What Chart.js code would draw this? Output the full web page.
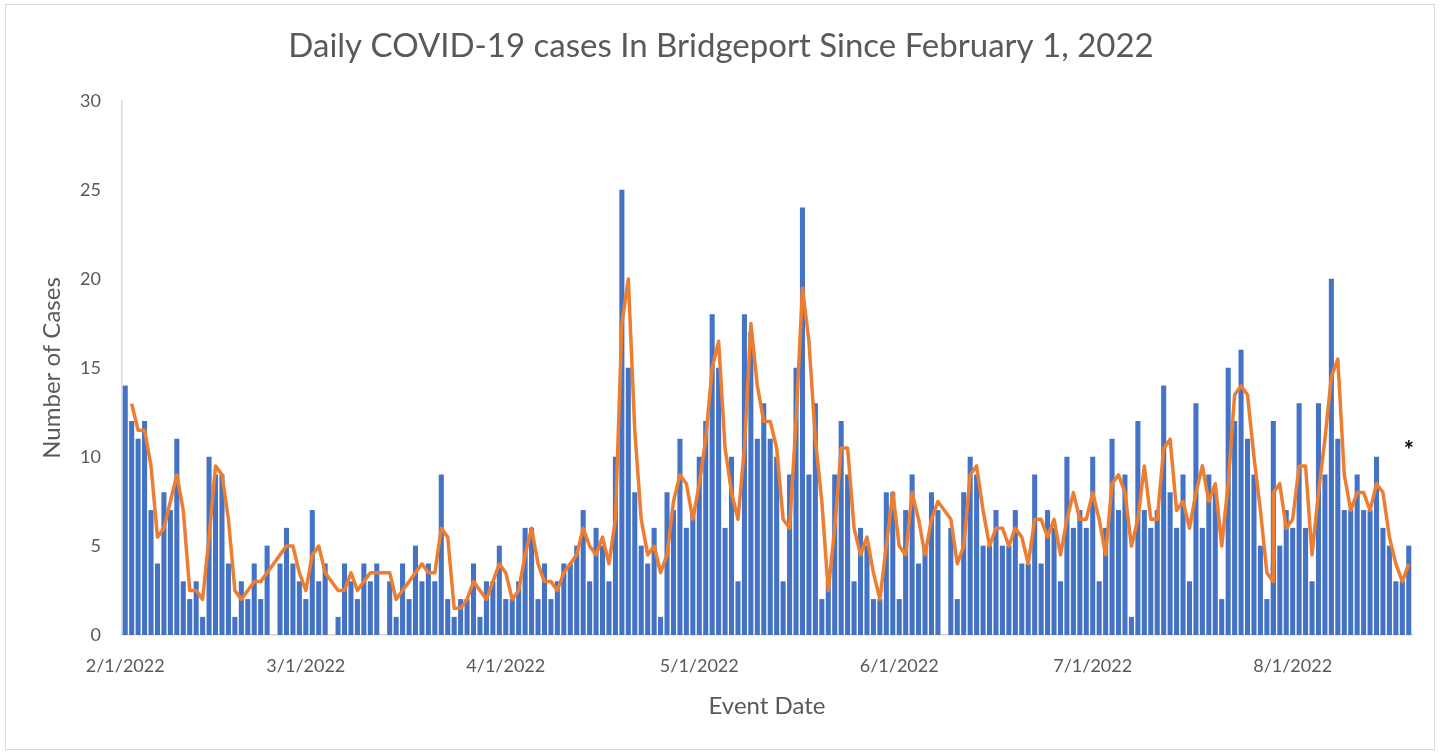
<!DOCTYPE html>
<html>
<head>
<meta charset="utf-8">
<title>Daily COVID-19 cases In Bridgeport</title>
<script src="https://cdn.jsdelivr.net/npm/chart.js@4.4.1/dist/chart.umd.min.js"></script>
<style>
  html, body { margin: 0; padding: 0; background: #fff; }
  #wrap { position: relative; width: 1442px; height: 756px; }
  #frame { position: absolute; left: 5px; top: 4px; width: 1430px; height: 746px; border: 1px solid #d9d9d9; box-sizing: border-box; pointer-events: none; }
</style>
</head>
<body>
<div id="wrap">
  <canvas id="covid-chart" width="1442" height="756"></canvas>
  <div id="frame"></div>
</div>
<script>
// Daily reported cases, one entry per day from 2/1/2022 to 8/19/2022 (null = no report that day)
const dailyCases = [
  14, 12, 11, 12, 7, 4, 8, 7, 11, 3, 2, 3, 1, 10, 9, 9, 4, 1, 3, 2, 4, 2, 5, null, 4, 6,
  4, 3, 2, 7, 3, 4, null, 1, 4, 3, 2, 4, 3, 4, null, 3,
  1, 4, 2, 5, 3, 4, 3, 9,
  2, 1, 2, 2, 4, 1, 3, 3, 5, 2, 2, 3, 6, 6, 2, 4, 2, 3, 4, 4, 5, 7, 3, 6, 5,
  3, 10, 25, 15, 8, 5, 4, 6, 1, 8, 7, 11, 6, 7, 10, 12, 18, 15, 6, 10, 3, 18, 17, 11, 13,
  11, 10, 3, 9, 15, 24, 9, 13, 2, 3, 9, 12, 9, 3, 6, 5, 2, 2, 8, 8, 2, 7, 9, 4, 5,
  8, 7, null, 6, 2, 8, 10, 9, 5, 5, 7, 5, 5, 7, 4, 4, 9, 4, 7, 6, 3, 10, 6, 7, 6,
  10, 3, 6, 11, 7, 9, 1, 12, 7, 6, 7, 14, 8, 6, 9, 3, 13, 6, 9, 8, 2, 15, 12, 16,
  11, 9, 5, 2, 12, 5, 7, 6, 13, 6, 3, 13, 9, 20, 11, 7, 7, 9, 7, 7, 10, 6, 5, 3, 3, 5
];

// a second report filed on the same date (listed before that day's main report)
const extraReports = [{ day: 178, cases: 4 }];

const tickDays = [0, 28, 59, 89, 120, 150, 181];
const tickLabels = ['2/1/2022', '3/1/2022', '4/1/2022', '5/1/2022', '6/1/2022', '7/1/2022', '8/1/2022'];
const yTicks = [0, 5, 10, 15, 20, 25, 30];
const totalDays = dailyCases.length;

// Build the rows in sheet order
const rows = [];
dailyCases.forEach((c, day) => {
  extraReports.filter(r => r.day === day).forEach(r => rows.push({ x: day, y: r.cases }));
  if (c !== null) rows.push({ x: day, y: c });
});

// 2 per. Mov. Avg. trendline (average of each row with the one before it)
const movingAvg = [];
for (let i = 1; i < rows.length; i++) {
  movingAvg.push({ x: rows[i].x, y: (rows[i - 1].y + rows[i].y) / 2 });
}

const textColor = '#595959';
const fontFamily = 'Lato, "Open Sans", sans-serif';

const asteriskNote = {
  id: 'asteriskNote',
  afterDatasetsDraw(chart) {
    const ctx = chart.ctx;
    const x = chart.scales.x.getPixelForValue(totalDays - 1);
    const y = chart.scales.y.getPixelForValue(10.3);
    ctx.save();
    ctx.font = 'bold 24px ' + fontFamily;
    ctx.fillStyle = '#000';
    ctx.textAlign = 'center';
    ctx.textBaseline = 'middle';
    ctx.fillText('*', x, y);
    ctx.restore();
  }
};

const ctx = document.getElementById('covid-chart').getContext('2d');
new Chart(ctx, {
  type: 'bar',
  data: {
    datasets: [
      {
        type: 'line',
        label: '2 per. Mov. Avg.',
        data: movingAvg,
        borderColor: '#ED7D31',
        borderWidth: 3.5,
        pointRadius: 0,
        tension: 0,
        borderJoinStyle: 'round',
        order: 0
      },
      {
        label: 'Cases',
        data: rows,
        backgroundColor: '#4472C4',
        barThickness: 4.4,
        order: 1
      }
    ]
  },
  options: {
    responsive: false,
    animation: false,
    devicePixelRatio: 1,
    layout: { padding: { left: 30, right: 30, top: 0, bottom: 0 } },
    plugins: {
      legend: { display: false },
      tooltip: { enabled: false },
      title: {
        display: true,
        text: 'Daily COVID-19 cases In Bridgeport Since February 1, 2022',
        color: textColor,
        font: { family: fontFamily, size: 33, weight: 'normal', lineHeight: 1.2 },
        padding: { top: 27, bottom: 34.4 }
      }
    },
    scales: {
      x: {
        type: 'linear',
        offset: false,
        min: -0.5,
        max: totalDays - 0.5,
        grid: { display: false, drawTicks: false },
        border: { display: true, color: '#d9d9d9', width: 1.5 },
        afterBuildTicks(scale) {
          scale.ticks = tickDays.map(v => ({ value: v }));
        },
        afterFit(scale) { scale.height = 121; },
        ticks: {
          autoSkip: false,
          maxRotation: 0,
          padding: 20,
          color: textColor,
          font: { family: fontFamily, size: 18 },
          callback: (value) => tickLabels[tickDays.indexOf(value)]
        },
        title: {
          display: true,
          text: 'Event Date',
          color: textColor,
          font: { family: fontFamily, size: 24 },
          padding: { top: 0, bottom: 35 }
        }
      },
      y: {
        min: 0,
        max: 30,
        grid: { display: false, drawTicks: false },
        border: { display: true, color: '#d9d9d9', width: 1.5 },
        afterBuildTicks(scale) {
          scale.ticks = yTicks.map(v => ({ value: v }));
        },
        afterFit(scale) { scale.width = 92; },
        ticks: {
          padding: 21,
          color: textColor,
          font: { family: fontFamily, size: 18 }
        },
        title: {
          display: true,
          text: 'Number of Cases',
          color: textColor,
          font: { family: fontFamily, size: 24 },
          padding: { top: 8, bottom: 0 }
        }
      }
    }
  },
  plugins: [asteriskNote]
});
</script>
</body>
</html>
